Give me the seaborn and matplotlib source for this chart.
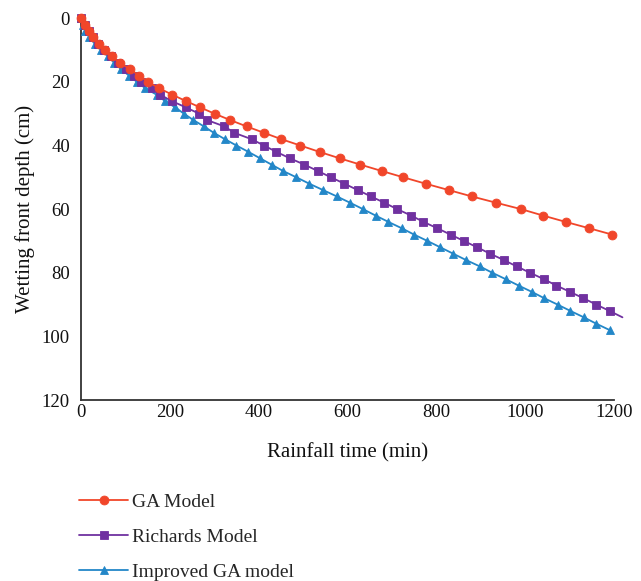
import matplotlib
matplotlib.use("Agg")
import matplotlib.pyplot as plt
import seaborn as sns
import pandas as pd

# ---- data ----
ga_depth = [0, 2, 4, 6, 8, 10, 12, 14, 16, 18, 20, 22, 24, 26, 28, 30, 32, 34,
            36, 38, 40, 42, 44, 46, 48, 50, 52, 54, 56, 58, 60, 62, 64, 66, 68]
ga_time = [0, 9, 17, 28, 40, 54, 69, 88, 110, 131, 151, 176, 205, 236, 268, 301,
           336, 373, 412, 451, 494, 537, 582, 629, 677, 726, 776, 828, 880, 935,
           991, 1040, 1091, 1144, 1196]

ri_depth = [0, 2, 4, 6, 8, 10, 12, 14, 16, 18, 20, 22, 24, 26, 28, 30, 32, 34,
            36, 38, 40, 42, 44, 46, 48, 50, 52, 54, 56, 58, 60, 62, 64, 66, 68,
            70, 72, 74, 76, 78, 80, 82, 84, 86, 88, 90, 92, 94]
ri_time = [0, 8, 17, 28, 38, 52, 67, 84, 102, 119, 136, 160, 178, 204, 236, 266,
           284, 323, 345, 384, 412, 440, 470, 503, 533, 563, 593, 623, 653, 683,
           712, 743, 771, 802, 832, 862, 892, 921, 952, 981, 1011, 1042, 1070,
           1101, 1131, 1160, 1190, 1219]

im_depth = [0, 2, 4, 6, 8, 10, 12, 14, 16, 18, 20, 22, 24, 26, 28, 30, 32, 34,
            36, 38, 40, 42, 44, 46, 48, 50, 52, 54, 56, 58, 60, 62, 64, 66, 68,
            70, 72, 74, 76, 78, 80, 82, 84, 86, 88, 90, 92, 94, 96, 98]
im_time = [0, 4, 10, 19, 31, 45, 61, 75, 90, 108, 126, 145, 170, 189, 212, 232,
           253, 277, 299, 324, 350, 377, 403, 429, 455, 485, 514, 545, 576, 606,
           635, 663, 692, 722, 750, 780, 809, 838, 867, 898, 926, 956, 985, 1015,
           1043, 1073, 1102, 1132, 1160, 1190]

series_names = ["GA Model", "Richards Model", "Improved GA model"]
x_ticks = [0, 200, 400, 600, 800, 1000, 1200]
y_ticks = [0, 20, 40, 60, 80, 100, 120]

colors = ["#F1462A", "#7031A0", "#2387C8"]
markers = ["o", "s", "^"]

sns.set_style("white")
plt.rcParams["font.family"] = ["Liberation Serif", "DejaVu Serif"]

fig = plt.figure(figsize=(6.41, 5.81), dpi=100)
ax = fig.add_axes([0.1264, 0.3115, 0.8315, 0.657])

datasets = [(ga_time, ga_depth), (ri_time, ri_depth), (im_time, im_depth)]
for i, ((t, d), name) in enumerate(zip(datasets, series_names)):
    df = pd.DataFrame({"time": t, "depth": d})
    n = len(t)
    markevery = list(range(n - 1)) if i == 1 else None
    sns.lineplot(data=df, x="time", y="depth", ax=ax, sort=False, estimator=None,
                 color=colors[i], marker=markers[i], markersize=6.4,
                 markeredgewidth=0.6, markeredgecolor=colors[i],
                 linewidth=1.3, label=name, clip_on=False, markevery=markevery,
                 zorder=3 - i * 0.1)

ax.set_xlim(0, 1200)
ax.set_ylim(120, 0)
ax.set_xticks(x_ticks)
ax.set_yticks(y_ticks)
ax.tick_params(direction="in", length=4.5, width=1.0, color="#333333",
               labelsize=13.5, labelcolor="#111111")
ax.tick_params(axis="y", pad=8)
ax.tick_params(axis="x", pad=3)
for s in ["top", "right"]:
    ax.spines[s].set_visible(False)
for s in ["left", "bottom"]:
    ax.spines[s].set_color("#333333")
    ax.spines[s].set_linewidth(1.3)

ax.set_xlabel("Rainfall time (min)", fontsize=15, labelpad=16, color="#111111")
ax.set_ylabel("Wetting front depth (cm)", fontsize=15, labelpad=5, color="#111111")

handles, labels = ax.get_legend_handles_labels()
ax.get_legend().remove()
leg = fig.legend(handles, labels, loc="upper left",
                 bbox_to_anchor=(0.124, 0.151), frameon=False, fontsize=14,
                 handlelength=2.5, handletextpad=0.2, labelspacing=0.9,
                 borderaxespad=0, borderpad=0)

fig.savefig("out.png", dpi=100)
